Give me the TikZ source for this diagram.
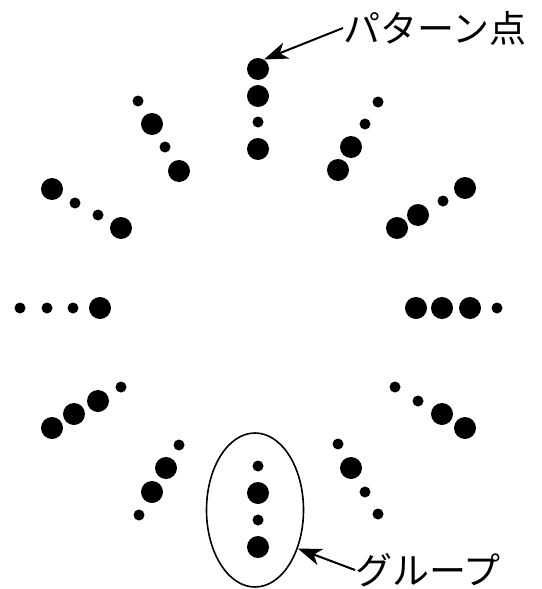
\documentclass[tikz,border=0pt]{standalone}
\usepackage{fontspec}
\newfontfamily\jpfont{Noto Sans CJK JP}
\usetikzlibrary{shapes.geometric,arrows.meta}
\begin{document}
\begin{tikzpicture}[x=1pt,y=-1pt,
  bigdot/.style={circle,fill=black,inner sep=0pt,minimum size=22pt},
  smalldot/.style={circle,fill=black,inner sep=0pt,minimum size=11pt},
  lbl/.style={font=\jpfont\fontsize{37}{40}\selectfont,inner sep=0pt,anchor=west},
  pointer/.style={-{Stealth[length=24pt,width=17pt,inset=7pt]},line width=2pt}]
\useasboundingbox (0,0) rectangle (541,589);
\foreach \px/\py/\s [count=\i] in {
  258/69/bigdot, 258/96/bigdot, 258/122/smalldot, 258/149/bigdot,
  138/101/smalldot, 152/124/bigdot, 165/147/smalldot, 179/171/bigdot,
  378/102/smalldot, 365/124/smalldot, 351/147/bigdot, 338/170/bigdot,
  52/189/bigdot, 75/203/smalldot, 98/215/smalldot, 121/228/bigdot,
  397/228/bigdot, 418/215/bigdot, 443/201/smalldot, 465/188/bigdot,
  20/308/smalldot, 47/308/smalldot, 73/308/smalldot, 100/308/bigdot,
  416/308/bigdot, 442/308/bigdot, 470/308/bigdot, 497/308/smalldot,
  52/428/bigdot, 74/414/bigdot, 98/401/bigdot, 121/387/smalldot,
  395/387/smalldot, 418/401/smalldot, 442/414/bigdot, 465/428/bigdot,
  179/445/smalldot, 166/468/bigdot, 152/492/bigdot, 139/515/smalldot,
  338/444/smalldot, 351/468/bigdot, 365/492/smalldot, 378/514/smalldot,
  258/466/smalldot, 258/493/bigdot, 258/520/smalldot, 258/547/bigdot}
  \node[\s] (d\i) at (\px,\py) {};
\node[draw,ellipse,line width=1.6pt,minimum width=97pt,minimum height=154pt,inner sep=0pt] (grp) at (255,510) {};
\node[lbl] (lab1) at (343,28) {パターン点};
\node[lbl] (lab2) at (355,570) {グループ};
\draw[pointer] (lab1.west) -- (d1.58);
\draw[pointer] (lab2.west) -- (grp.-42);
\end{tikzpicture}
\end{document}
